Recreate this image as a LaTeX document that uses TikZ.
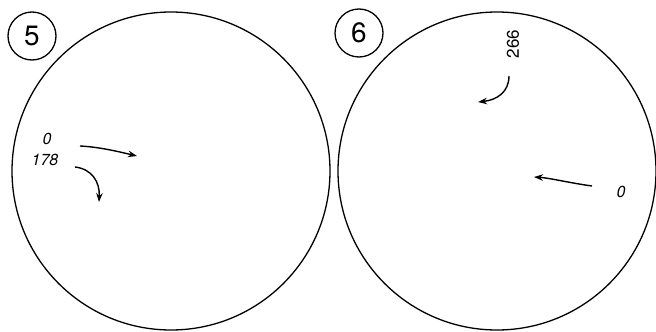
\documentclass[tikz,border=0pt]{standalone}
\usepackage{fontspec}
\setmainfont{TeX Gyre Heros}
\usetikzlibrary{arrows.meta}
\begin{document}
\begin{tikzpicture}[x=1pt,y=-1pt,
  bigc/.style={draw,line width=1.3pt,circle,minimum size=318pt,inner sep=0pt},
  numc/.style={draw,line width=1.3pt,circle,minimum size=48pt,inner sep=0pt,font=\fontsize{28}{28}\selectfont},
  lab/.style={inner sep=0pt,font=\fontsize{16}{16}\selectfont\itshape},
  arr/.style={line width=1.4pt,-{Stealth[length=9pt,width=6.5pt]}}]
\useasboundingbox (0,0) rectangle (656,332);
\node[bigc] (c5) at (171,171) {};
\node[bigc] (c6) at (497,171) {};
\node[numc,fill=white] (n5) at (32,36) {5};
\node[numc,fill=white] (n6) at (359,33) {6};
\node[lab] (l0a) at (47,139) {0};
\node[lab] (l178) at (45,160) {178};
\node[inner sep=0pt,font=\fontsize{17}{17}\selectfont,rotate=90] (l266) at (513,44) {266};
\node[lab] (l0b) at (621,192) {0};
\coordinate (a1s) at (80,146); \coordinate (a1e) at (137,156);
\coordinate (a2s) at (75,167); \coordinate (a2e) at (99,202);
\coordinate (a3s) at (509,76); \coordinate (a3e) at (478,102);
\coordinate (a4s) at (592,186); \coordinate (a4e) at (534,177);
\draw[arr] (a1s) .. controls (100,147) and (120,152) .. (a1e);
\draw[arr] (a2s) .. controls (92,169) and (100,182) .. (a2e);
\draw[arr] (a3s) .. controls (509,92) and (497,100) .. (a3e);
\draw[arr] (a4s) .. controls (570,183) and (550,178) .. (a4e);
\end{tikzpicture}
\end{document}
